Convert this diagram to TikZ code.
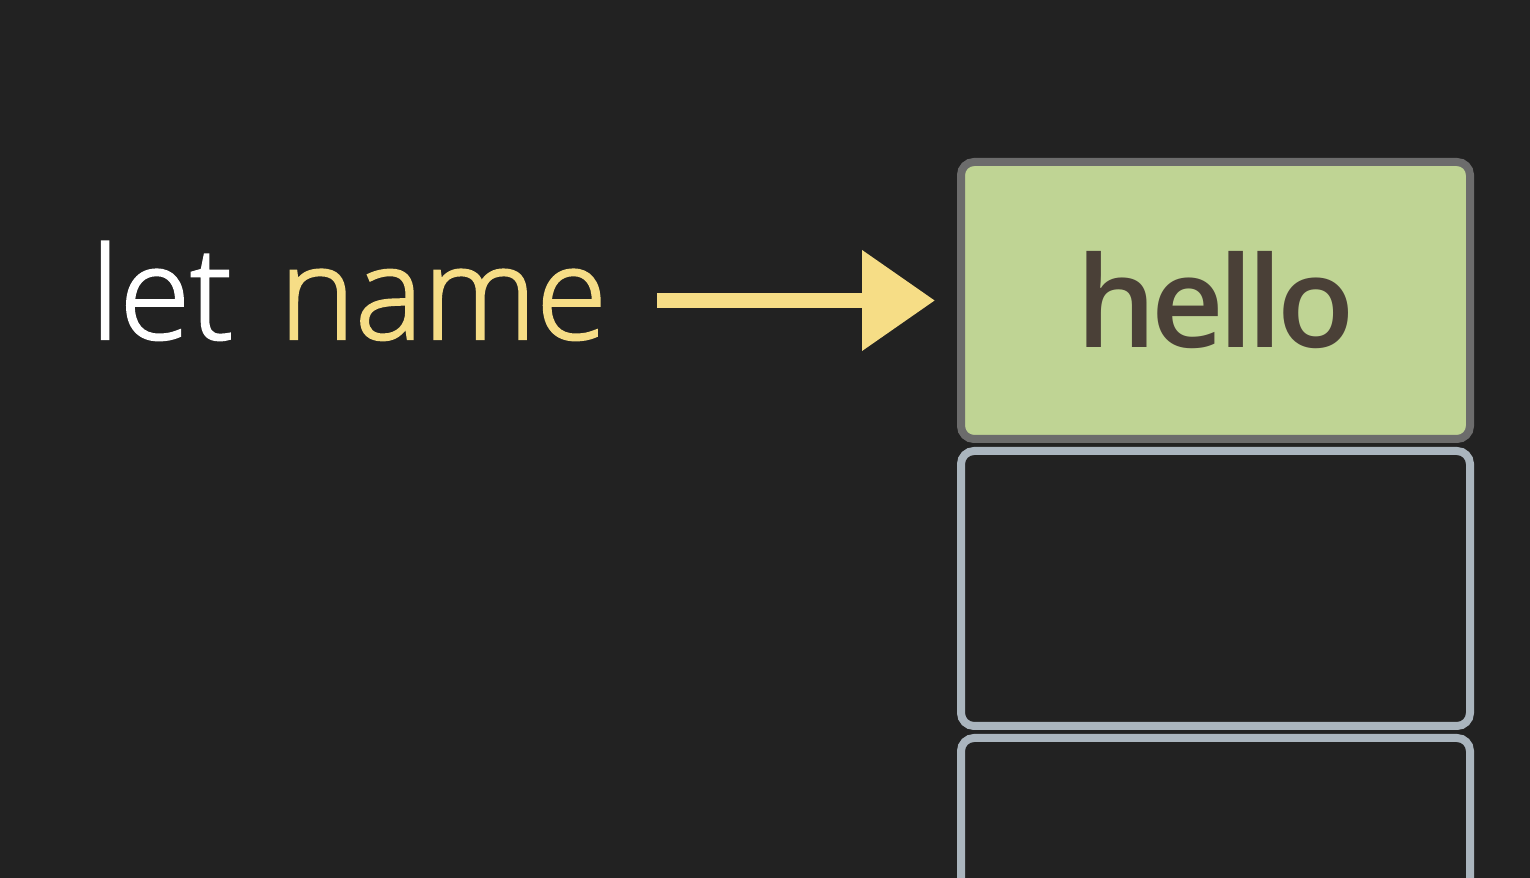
\documentclass[tikz,border=0pt]{standalone}
\usepackage{fontspec}
\setmainfont{Open Sans}
\newfontfamily\thinfont{Open Sans}[UprightFont={* Light}, FakeBold=1.8]
\newfontfamily\boldfont{Open Sans}[UprightFont={* Semibold}, LetterSpace=-4.5]
\usepackage{tikz}
\usetikzlibrary{positioning}
\usetikzlibrary{arrows.meta}

\definecolor{bgdark}{HTML}{222222}
\definecolor{namegold}{HTML}{F6DD86}
\definecolor{cellgreen}{HTML}{BFD494}
\definecolor{cellgray}{HTML}{6C6C6C}
\definecolor{cellblue}{HTML}{AAB5BE}
\definecolor{valbrown}{HTML}{4A4037}

\begin{document}
\begin{tikzpicture}[
    cell/.style={draw=cellblue, line width=0.08cm, rounded corners=0.13cm, minimum width=5.09cm, minimum height=2.75cm, inner sep=0pt},
    keyword/.style={font=\thinfont\fontsize{36.5}{36.5}\selectfont, inner sep=0pt, anchor=base west},
    pointer/.style={draw=namegold, line width=0.15cm, -{Triangle[length=0.73cm, width=0.97cm]}}
]
    \fill[bgdark] (0,0) rectangle (15.3,8.78);
    \useasboundingbox (0,0) rectangle (15.3,8.78);

    \node[cell, fill=cellgreen, draw=cellgray, minimum height=2.77cm, font=\boldfont\fontsize{36}{36}\selectfont, text=valbrown] (hello) at (12.155,5.775) {hello};
    \node[cell, below=0.04cm of hello] (slot1) {};
    \node[cell, below=0.04cm of slot1] (slot2) {};

    \node[keyword, text=white] (let) at (0.90,5.39) {let};
    \node[keyword, text=namegold, right=0.45cm of let.base east, anchor=base west] (name) {name};

    \draw[pointer] ([xshift=0.5cm]name.east |- hello.west) -- ([xshift=-0.22cm]hello.west);
\end{tikzpicture}
\end{document}
